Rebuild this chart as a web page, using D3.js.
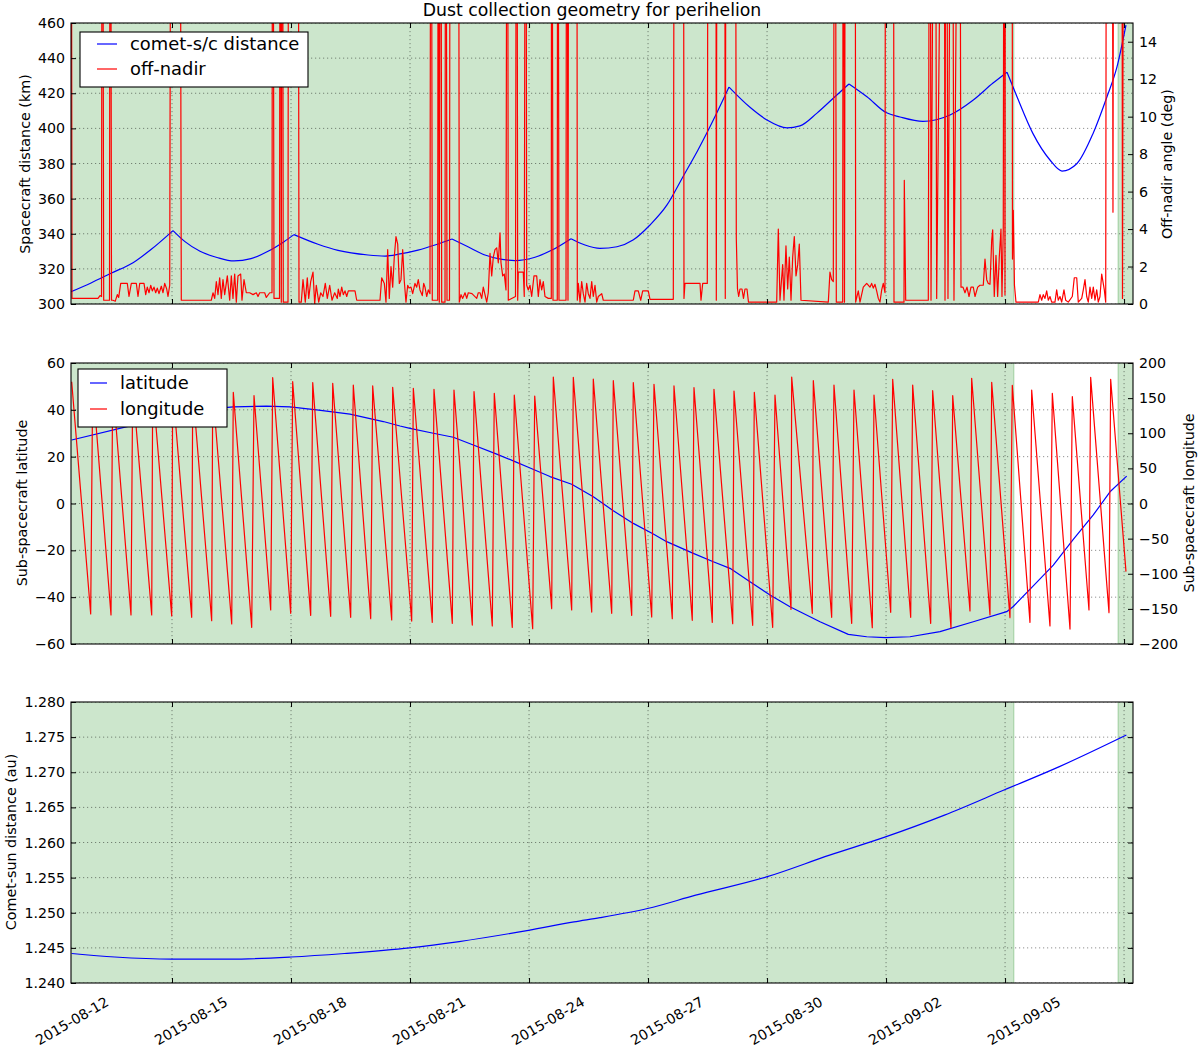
<!DOCTYPE html>
<html>
<head>
<meta charset="utf-8">
<script src="https://cdn.jsdelivr.net/npm/d3@7"></script>
<style>
  body { margin: 0; background: #fff; }
  text { font-family: "DejaVu Sans", sans-serif; fill: #000; }
</style>
</head>
<body>
<div id="chart"></div>
<script>
// all times are days since 2015-08-12 00:00 UTC

// comet - spacecraft distance (km)
var distance = [[0.454,307],[0.958,312],[1.462,317.5],[2.017,323.5],[2.470,331],[3.025,341.8],[3.327,335.5],[3.706,330],[4.134,326.5],[4.563,324.5],[4.991,325.8],[5.420,330],[5.823,335.5],[6.075,339.5],[6.680,334],[7.184,330.5],[7.940,327.9],[8.369,327.3],[8.747,328.5],[9.201,330.7],[9.629,333.6],[10.058,337],[10.461,332.6],[10.890,327.9],[11.318,325.4],[11.646,324.7],[12.150,326.6],[12.579,330.7],[13.058,337.2],[13.411,333.6],[13.789,331.7],[14.217,332.6],[14.621,336.4],[15.049,345],[15.478,356.4],[15.881,372.5],[16.259,387.7],[16.738,409],[17.041,423.5],[17.570,412],[17.998,404.8],[18.503,400.3],[18.830,401.4],[19.259,408.7],[19.662,417],[20.066,425.3],[20.519,418],[20.998,409],[21.351,406.5],[21.931,404],[22.612,407.6],[23.191,416],[23.696,425.8],[24.049,432],[24.301,418],[24.704,397],[25.132,382],[25.435,375.7],[25.813,380],[26.216,397],[26.569,418],[26.821,435],[27.048,458.8]];
// trajectory manoeuvres (sharp corners of the distance curve)
var manoeuvreDays = [3.025, 6.075, 10.058, 13.058, 17.041, 20.066, 24.049];

// off-nadir angle (deg); 40 = far off the top of the axis
var offNadir = [[0.454,40],[0.479,0.3],[1.134,0.3],[1.185,0.45],[1.223,0.4],[1.243,40],[1.278,0.2],[1.424,0.2],[1.444,40],[1.475,0.2],[1.512,0.2],[1.570,0.15],[1.621,0.5],[1.656,0.35],[1.707,1.1],[1.873,1.1],[1.916,0.4],[1.974,1.1],[2.100,1.1],[2.143,0.4],[2.186,1.1],[2.294,1.1],[2.337,0.5],[2.377,0.9],[2.420,0.6],[2.463,1.0],[2.503,0.7],[2.546,0.9],[2.589,0.6],[2.629,0.85],[2.672,0.55],[2.730,0.95],[2.773,0.6],[2.816,1.1],[2.866,0.8],[2.899,0.4],[2.942,1.0],[2.982,40],[3.194,40],[3.234,0.2],[3.990,0.2],[4.033,0.6],[4.076,0.3],[4.117,1.2],[4.159,0.5],[4.202,1.4],[4.242,0.3],[4.285,1.3],[4.328,0.5],[4.394,1.5],[4.454,0.2],[4.495,1.5],[4.537,0.3],[4.580,1.6],[4.621,0.1],[4.663,1.5],[4.731,1.6],[4.764,0.2],[4.815,1.3],[4.873,0.6],[4.958,0.6],[5.042,0.5],[5.125,0.6],[5.168,0.4],[5.210,0.6],[5.336,0.6],[5.377,0.35],[5.463,0.6],[5.521,0.6],[5.538,40],[5.571,0.3],[5.710,0.3],[5.730,40],[5.755,0.1],[5.780,40],[5.805,0.1],[5.924,0.1],[5.942,40],[6.176,40],[6.201,0.1],[6.259,0.1],[6.302,1.3],[6.360,0.1],[6.410,1.4],[6.446,0.3],[6.496,1.2],[6.554,1.7],[6.597,0.0],[6.637,1.0],[6.698,0.1],[6.748,0.6],[6.806,0.4],[6.864,1.1],[6.915,0.3],[6.975,1.0],[7.033,0.2],[7.101,0.6],[7.167,0.3],[7.192,0.8],[7.235,0.4],[7.278,0.9],[7.318,0.5],[7.361,0.7],[7.404,0.4],[7.444,0.7],[7.613,0.7],[7.656,0.2],[8.243,0.2],[8.286,1.4],[8.352,1.1],[8.394,0.1],[8.437,2.9],[8.477,0.3],[8.520,2.0],[8.563,0.9],[8.603,2.5],[8.646,3.6],[8.689,3.2],[8.730,1.1],[8.772,1.3],[8.815,2.9],[8.856,1.2],[8.898,0.1],[8.941,1.0],[8.974,0.85],[9.024,0.9],[9.067,0.55],[9.125,1.1],[9.168,0.9],[9.208,1.3],[9.251,0.75],[9.309,0.45],[9.345,1.1],[9.377,0.9],[9.420,0.4],[9.461,0.75],[9.503,0.55],[9.529,40],[9.561,0.2],[9.698,0.2],[9.713,40],[9.738,0.1],[9.773,40],[9.798,0.1],[9.882,0.1],[9.899,40],[9.932,0.2],[9.995,0.2],[10.015,40],[10.217,40],[10.242,0.1],[10.285,0.5],[10.328,0.3],[10.386,0.6],[10.429,0.3],[10.469,0.6],[10.562,0.55],[10.681,0.3],[10.721,0.6],[10.764,0.6],[10.807,0.3],[10.847,0.9],[10.890,0.5],[10.933,0.1],[10.973,0.6],[11.016,2.7],[11.059,1.5],[11.099,2.5],[11.142,2.9],[11.185,3.0],[11.225,2.2],[11.268,3.8],[11.293,2.2],[11.336,1.5],[11.376,1.6],[11.419,0.75],[11.452,40],[11.477,0.2],[11.659,0.4],[11.689,40],[11.714,0.2],[11.729,1.7],[11.855,1.7],[11.880,0.4],[11.916,40],[11.941,1.0],[11.981,0.75],[12.024,1.0],[12.067,0.4],[12.125,1.5],[12.193,1.5],[12.234,0.4],[12.276,1.3],[12.319,0.75],[12.359,1.2],[12.402,0.4],[12.486,0.3],[12.561,0.3],[12.571,40],[12.604,0.2],[12.712,0.2],[12.722,40],[12.755,0.2],[12.932,0.2],[12.949,40],[12.982,0.2],[13.007,40],[13.201,40],[13.217,0.2],[13.242,1.1],[13.285,0.1],[13.327,1.2],[13.368,0.55],[13.411,0.1],[13.453,1.1],[13.494,0.55],[13.537,0.3],[13.580,1.2],[13.620,0.4],[13.663,1.0],[13.706,0.1],[13.746,0.4],[13.832,0.55],[13.872,0.2],[14.628,0.2],[14.671,0.7],[14.754,0.7],[14.815,0.2],[14.865,0.7],[15.006,0.7],[15.049,0.25],[15.637,0.25],[15.672,40],[15.889,40],[15.906,0.3],[15.931,1.1],[16.310,1.1],[16.335,0.2],[16.378,1.1],[16.494,1.1],[16.519,40],[16.705,40],[16.721,0.2],[16.746,40],[16.927,40],[16.947,0.3],[16.973,40],[17.192,40],[17.225,3.5],[17.255,0.8],[17.285,0.4],[17.318,0.8],[17.368,0.8],[17.406,0.3],[17.444,0.8],[17.494,0.8],[17.532,0.1],[18.243,0.1],[18.284,4.0],[18.326,0.2],[18.394,2.1],[18.427,0.2],[18.477,3.1],[18.520,0.8],[18.561,2.5],[18.604,0.2],[18.646,2.5],[18.687,3.6],[18.730,1.5],[18.772,2.1],[18.813,3.2],[18.856,0.2],[19.544,0.1],[19.586,1.7],[19.629,1.3],[19.670,1.2],[19.712,40],[19.746,0.1],[19.907,0.1],[19.922,40],[19.952,0.1],[19.982,40],[20.217,40],[20.234,0.1],[20.300,0.7],[20.343,0.1],[20.426,0.9],[20.512,1.1],[20.594,0.9],[20.637,1.1],[20.678,0.85],[20.721,1.05],[20.763,0.7],[20.804,0.3],[20.846,0.1],[20.890,0.75],[20.930,1.1],[20.973,0.6],[20.991,40],[21.182,40],[21.200,0.1],[21.452,0.1],[21.460,6.6],[21.495,0.2],[22.065,0.2],[22.107,40],[22.133,0.2],[22.233,40],[22.276,0.3],[22.460,40],[22.486,0.2],[22.511,40],[22.561,0.3],[22.662,40],[22.712,0.2],[22.851,40],[22.889,0.9],[22.939,0.9],[22.990,0.6],[23.040,0.9],[23.091,0.4],[23.141,0.9],[23.199,0.9],[23.242,0.4],[23.310,0.9],[23.367,1.0],[23.451,1.0],[23.494,2.4],[23.537,1.3],[23.577,1.1],[23.620,1.05],[23.663,3.4],[23.688,3.96],[23.728,0.4],[23.771,2.6],[23.813,0.4],[23.854,2.5],[23.897,4.0],[23.922,0.4],[23.955,4.0],[23.980,40],[23.998,0.5],[24.015,40],[24.174,40],[24.187,2.4],[24.207,5.0],[24.237,1.0],[24.275,0.1],[24.838,0.1],[24.880,0.5],[24.923,0.2],[24.963,0.5],[25.006,0.3],[25.049,0.7],[25.090,0.2],[25.132,0.4],[25.175,0.1],[25.258,0.1],[25.301,0.75],[25.341,0.2],[25.384,0.4],[25.427,0.1],[25.485,0.75],[25.528,0.2],[25.594,0.1],[25.695,0.4],[25.745,1.4],[25.806,1.4],[25.846,0.1],[25.932,0.3],[25.972,0.75],[26.015,1.3],[26.058,0.4],[26.098,0.1],[26.141,0.9],[26.184,0.3],[26.224,0.9],[26.267,0.2],[26.310,0.75],[26.350,0.1],[26.393,0.4],[26.436,1.6],[26.502,0.75],[26.537,0.1],[26.562,40],[26.695,40],[26.720,4.9],[26.746,40],[26.940,40],[26.960,0.3],[26.998,40],[27.048,40]];

// sub-spacecraft latitude (deg)
var latitude = [[0.471,27.1],[2.024,33.5],[3.706,40.0],[4.545,41.3],[5.387,41.6],[5.974,41.3],[6.647,40.0],[7.487,38.2],[8.326,35.0],[8.747,33.1],[9.000,32.1],[9.587,30.0],[10.091,28.3],[10.595,25.0],[11.185,21.1],[11.646,17.9],[11.982,15.5],[12.528,11.5],[13.075,8.2],[13.620,2.9],[14.124,-3.1],[14.628,-8.5],[15.133,-13.0],[15.470,-16.3],[16.141,-21.3],[16.645,-24.9],[17.066,-27.7],[17.570,-33.4],[18.074,-39.1],[18.578,-44.1],[18.831,-46.2],[19.335,-50.5],[20.048,-55.9],[20.512,-56.9],[20.991,-57.3],[21.604,-56.9],[22.360,-54.7],[23.199,-50.5],[24.041,-46.2],[24.207,-44.0],[24.711,-35.2],[25.216,-26.3],[25.720,-15.3],[26.224,-4.9],[26.645,5.0],[27.066,11.7]];

// sub-spacecraft longitude (deg)
var longitude = [[0.471,173.4],[0.950,-157.3],[1.001,172.0],[1.462,-158.7],[1.505,170.1],[1.966,-158.7],[2.009,168.2],[2.488,-158.7],[2.513,166.3],[2.992,-160.1],[3.017,164.4],[3.496,-162.0],[3.522,162.5],[4.000,-166.8],[4.026,160.6],[4.505,-171.5],[4.545,158.2],[5.009,-176.3],[5.067,153.5],[5.488,-151.6],[5.538,179.1],[5.992,-156.3],[6.042,173.4],[6.496,-159.2],[6.547,172.0],[7.000,-160.6],[7.051,171.1],[7.504,-162.0],[7.570,168.7],[8.009,-163.9],[8.059,167.3],[8.538,-165.8],[8.563,165.4],[9.042,-167.3],[9.083,164.0],[9.561,-169.2],[9.604,162.5],[10.066,-170.6],[10.108,161.6],[10.570,-173.0],[10.613,159.2],[11.074,-174.4],[11.124,156.8],[11.578,-176.3],[11.628,154.4],[12.092,-178.2],[12.143,153.0],[12.571,-149.7],[12.612,179.9],[13.075,-151.6],[13.116,179.6],[13.580,-154.5],[13.620,177.2],[14.084,-156.3],[14.124,174.9],[14.588,-159.2],[14.628,172.0],[15.092,-161.6],[15.150,169.6],[15.611,-163.9],[15.654,167.3],[16.115,-166.3],[16.158,164.9],[16.620,-169.2],[16.662,162.5],[17.134,-171.1],[17.167,160.1],[17.638,-173.4],[17.679,158.2],[18.142,-176.3],[18.200,154.4],[18.604,-150.7],[18.621,179.9],[19.141,-156.3],[19.166,174.9],[19.629,-162.0],[19.687,168.7],[20.134,-170.6],[20.192,161.6],[20.653,-176.8],[20.696,154.4],[21.117,-154.9],[21.167,176.8],[21.621,-162.0],[21.671,168.7],[22.125,-170.6],[22.175,160.6],[22.637,-176.8],[22.680,153.5],[23.116,-153.0],[23.158,178.2],[23.620,-158.7],[23.663,172.5],[24.124,-162.5],[24.182,168.2],[24.628,-169.2],[24.671,161.6],[25.132,-174.4],[25.191,156.8],[25.637,-178.7],[25.695,152.1],[26.115,-151.6],[26.158,179.6],[26.620,-155.4],[26.662,176.8],[27.048,-97.0]];

// comet - sun distance (au)
var sunDistance = [[0.469,1.2442],[1.558,1.2437],[2.995,1.2434],[4.452,1.2434],[5.995,1.2437],[7.346,1.2442],[8.994,1.2450],[10.240,1.2459],[11.986,1.2475],[13.133,1.2487],[13.789,1.2493],[14.986,1.2506],[16.201,1.2525],[17.986,1.2551],[19.577,1.2582],[20.986,1.2608],[22.473,1.2639],[23.988,1.2675],[25.369,1.2708],[27.058,1.2753]];

// dust collection windows (shaded)
var windows = [[0.30, 24.22], [26.85, 27.40]];

var xDomainDays = [0.4537, 27.225];
var dateTickDays = [0, 3, 6, 9, 12, 15, 18, 21, 24, 27];
var dateLabelDays = [0, 3, 6, 9, 12, 15, 18, 21, 24];
var distTicks = [300, 320, 340, 360, 380, 400, 420, 440, 460];
var nadirTicks = [0, 2, 4, 6, 8, 10, 12, 14];
var latTicks = [-60, -40, -20, 0, 20, 40, 60];
var lonTicks = [-200, -150, -100, -50, 0, 50, 100, 150, 200];
var sunTicks = [1.240, 1.245, 1.250, 1.255, 1.260, 1.265, 1.270, 1.275, 1.280];

var t0 = Date.UTC(2015, 7, 12);
function day(d) { return new Date(t0 + d * 864e5); }

var left = 71, right = 1133;
var svg = d3.select("#chart").append("svg").attr("width", 1200).attr("height", 1050);

var x = d3.scaleUtc().domain(xDomainDays.map(day)).range([left, right]);
var tickDates = dateTickDays.map(day).filter(function(d){ return d >= x.domain()[0] && d <= x.domain()[1]; });

var blue = "#0000ff", red = "#ff0000";

function panel(id, top, bottom, yLeft, leftTicks, leftFmt, yRight, rightTicks) {
  var g = svg.append("g");
  svg.append("clipPath").attr("id", id).append("rect")
    .attr("x", left).attr("y", top).attr("width", right - left).attr("height", bottom - top);
  var inner = g.append("g").attr("clip-path", "url(#" + id + ")");

  // shaded windows
  inner.selectAll("rect.win").data(windows).enter().append("rect")
    .attr("x", function(d){ return x(day(d[0])); })
    .attr("width", function(d){ return x(day(d[1])) - x(day(d[0])); })
    .attr("y", top - 2).attr("height", bottom - top + 4)
    .attr("fill", "#008000").attr("fill-opacity", 0.2)
    .attr("stroke", "#008000").attr("stroke-opacity", 0.2).attr("stroke-width", 1.5);

  // grid
  inner.selectAll("line.hg").data(leftTicks).enter().append("line")
    .attr("x1", left).attr("x2", right)
    .attr("y1", function(d){ return yLeft(d); }).attr("y2", function(d){ return yLeft(d); })
    .attr("stroke", "#000").attr("stroke-opacity", 0.55).attr("stroke-width", 0.8)
    .attr("stroke-dasharray", "1.2,2.8");
  inner.selectAll("line.vg").data(tickDates).enter().append("line")
    .attr("y1", top).attr("y2", bottom)
    .attr("x1", function(d){ return x(d); }).attr("x2", function(d){ return x(d); })
    .attr("stroke", "#000").attr("stroke-opacity", 0.55).attr("stroke-width", 0.8)
    .attr("stroke-dasharray", "1.2,2.8");

  // x ticks (inward, top and bottom)
  g.append("g").attr("transform", "translate(0," + bottom + ")")
    .call(d3.axisBottom(x).tickValues(tickDates).tickSize(-5).tickFormat(""))
    .call(function(a){ a.select(".domain").remove(); });
  g.append("g").attr("transform", "translate(0," + top + ")")
    .call(d3.axisTop(x).tickValues(tickDates).tickSize(-5).tickFormat(""))
    .call(function(a){ a.select(".domain").remove(); });

  // left axis
  var la = g.append("g").attr("transform", "translate(" + left + ",0)")
    .call(d3.axisLeft(yLeft).tickValues(leftTicks).tickSize(-5).tickPadding(6).tickFormat(leftFmt));
  la.select(".domain").remove();
  la.selectAll("text").style("font-size", "14.2px").style("font-family", "DejaVu Sans");

  // right axis
  var ra;
  if (yRight) {
    ra = d3.axisRight(yRight).tickValues(rightTicks).tickSize(-5).tickPadding(6);
  } else {
    ra = d3.axisRight(yLeft).tickValues(leftTicks).tickSize(-5).tickFormat("");
  }
  var rg = g.append("g").attr("transform", "translate(" + right + ",0)").call(ra);
  rg.select(".domain").remove();
  rg.selectAll("text").style("font-size", "14.2px").style("font-family", "DejaVu Sans");

  return {g: g, inner: inner, top: top, bottom: bottom};
}

function frame(p) {
  p.g.append("rect").attr("x", left).attr("y", p.top)
    .attr("width", right - left).attr("height", p.bottom - p.top)
    .attr("fill", "none").attr("stroke", "#000").attr("stroke-width", 1.1);
}

function drawLine(p, data, y, color, curve) {
  var line = d3.line()
    .x(function(d){ return x(day(d[0])); })
    .y(function(d){ return y(d[1]); });
  if (curve) line.curve(curve);
  p.inner.append("path").datum(data).attr("d", line)
    .attr("fill", "none").attr("stroke", color).attr("stroke-width", 1.2)
    .attr("stroke-linejoin", "round");
}

// smooth arcs between manoeuvres, sharp corners at them
function splitAt(data, cuts) {
  var parts = [], cur = [];
  data.forEach(function(d) {
    cur.push(d);
    if (cuts.indexOf(d[0]) >= 0) { parts.push(cur); cur = [d]; }
  });
  if (cur.length > 1) parts.push(cur);
  return parts;
}

function yLabel(text, cx, cy) {
  svg.append("text").attr("transform", "translate(" + cx + "," + cy + ") rotate(-90)")
    .attr("text-anchor", "middle").attr("dy", "0.35em")
    .style("font-size", "14.3px").text(text);
}

function legend(x0, y0, w, h, lx, tx, rows) {
  var lg = svg.append("g");
  lg.append("rect").attr("x", x0).attr("y", y0).attr("width", w).attr("height", h)
    .attr("fill", "#fff").attr("stroke", "#000").attr("stroke-width", 1.1);
  rows.forEach(function(r) {
    lg.append("line").attr("x1", lx[0]).attr("x2", lx[1]).attr("y1", r.y).attr("y2", r.y)
      .attr("stroke", r.color).attr("stroke-width", 1.2);
    lg.append("text").attr("x", tx).attr("y", r.y).attr("dy", "0.35em")
      .style("font-size", "17.9px").text(r.label);
  });
}

// ---- panel 1: distance & off-nadir
var yDist = d3.scaleLinear().domain([300, 460]).range([304, 23]);
var yNadir = d3.scaleLinear().domain([0, 15]).range([304, 23]);
var p1 = panel("c1", 23, 304, yDist, distTicks, d3.format("d"), yNadir, nadirTicks);
splitAt(distance, manoeuvreDays).forEach(function(seg) {
  drawLine(p1, seg, yDist, blue, d3.curveMonotoneX);
});
drawLine(p1, offNadir, yNadir, red);
frame(p1);

// ---- panel 2: latitude & longitude
var yLat = d3.scaleLinear().domain([-60, 60]).range([644, 363]);
var yLon = d3.scaleLinear().domain([-200, 200]).range([644, 363]);
var p2 = panel("c2", 363, 644, yLat, latTicks, d3.format("d"), yLon, lonTicks);
drawLine(p2, latitude, yLat, blue);
drawLine(p2, longitude, yLon, red);
frame(p2);

// ---- panel 3: comet-sun distance
var ySun = d3.scaleLinear().domain([1.240, 1.280]).range([983, 702]);
var p3 = panel("c3", 702, 983, ySun, sunTicks, d3.format(".3f"), null, null);
drawLine(p3, sunDistance, ySun, blue, d3.curveMonotoneX);
frame(p3);

// date labels under the bottom panel
var fmt = d3.utcFormat("%Y-%m-%d");
svg.selectAll("text.date").data(dateLabelDays.map(day)).enter().append("text")
  .attr("transform", function(d){ return "translate(" + (x(d) + 19) + ",1021) rotate(-30)"; })
  .attr("text-anchor", "middle").attr("dy", "0.35em")
  .style("font-size", "14px").text(function(d){ return fmt(d); });

// titles and axis labels
svg.append("text").attr("x", 592).attr("y", 16)
  .attr("text-anchor", "middle").style("font-size", "17.3px")
  .text("Dust collection geometry for perihelion");
yLabel("Spacecraft distance (km)", 25, 164);
yLabel("Off-nadir angle (deg)", 1167, 164);
yLabel("Sub-spacecraft latitude", 22, 503);
yLabel("Sub-spacecraft longitude", 1189, 503);
yLabel("Comet-sun distance (au)", 11, 842);

legend(80, 32, 228, 55, [97, 117], 130, [
  {y: 44, color: blue, label: "comet-s/c distance"},
  {y: 69, color: red, label: "off-nadir"}
]);
legend(78, 369, 149, 58, [90, 107], 120, [
  {y: 383, color: blue, label: "latitude"},
  {y: 409, color: red, label: "longitude"}
]);
</script>
</body>
</html>
